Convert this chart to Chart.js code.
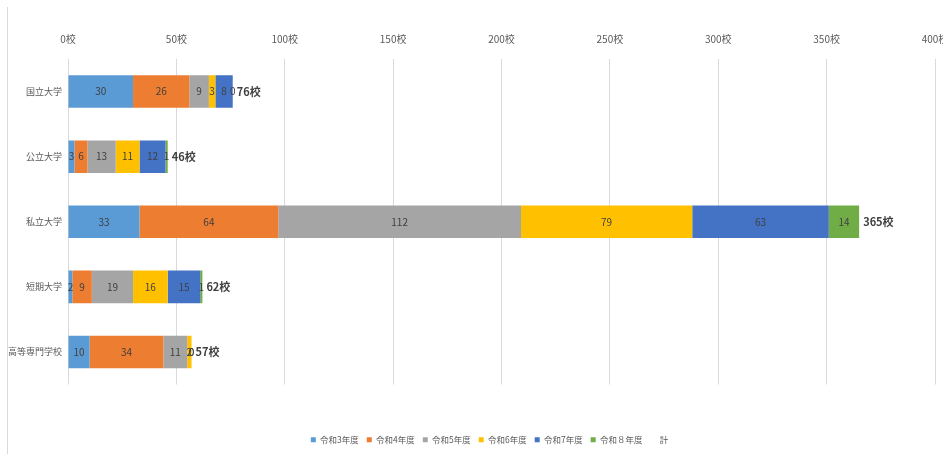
<!DOCTYPE html>
<html lang="ja">
<head>
<meta charset="utf-8">
<script src="https://cdn.jsdelivr.net/npm/chart.js@4.4.1/dist/chart.umd.min.js"></script>
<style>
	html, body { margin: 0; padding: 0; background: #fff; overflow: hidden; }
	#wrap { position: relative; width: 943px; height: 454px; overflow: hidden; }
	#frame { position: absolute; left: 7px; top: 7px; height: 447px; border-left: 1px solid #d9d9d9; }
	canvas { position: absolute; left: 0; top: 0; }
</style>
</head>
<body>
<div id="wrap">
	<div id="frame"></div>
	<canvas id="schoolChart" width="970" height="454"></canvas>
</div>
<script>
const schoolTypes = ["国立大学", "公立大学", "私立大学", "短期大学", "高等専門学校"];
const yearLabels = ["令和3年度", "令和4年度", "令和5年度", "令和6年度", "令和7年度", "令和８年度"];

const r3 = [30, 3, 33, 2, 10];
const r4 = [26, 6, 64, 9, 34];
const r5 = [9, 13, 112, 19, 11];
const r6 = [3, 11, 79, 16, 2];
const r7 = [8, 12, 63, 15, 0];
const r8 = [0, 1, 14, 1, 0];
const totals = [76, 46, 365, 62, 57];

const xTicks = [0, 50, 100, 150, 200, 250, 300, 350, 400];
const unit = "校";

const colors = ["#5B9BD5", "#ED7D31", "#A5A5A5", "#FFC000", "#4472C4", "#70AD47"];
const font = "'Noto Sans CJK JP', 'Noto Sans', sans-serif";

//////////////////////////////// labels inside bars + totals

const barLabels = {
	id: "barLabels",
	afterLayout(chart) {
		// legend sits a bit right of centre in the original
		chart.legend.left += 18;
		chart.legend.right += 18;
	},
	afterDatasetsDraw(chart) {
		const ctx = chart.ctx;
		ctx.save();
		ctx.textBaseline = "middle";
		ctx.fillStyle = "#404040";
		ctx.textAlign = "center";
		ctx.font = "10px " + font;
		chart.data.datasets.forEach((ds, i) => {
			if (ds.label === "計") return;
			const meta = chart.getDatasetMeta(i);
			meta.data.forEach((bar, j) => {
				const v = ds.data[j];
				if (v === undefined || v === null) return;
				ctx.fillText(String(v), (bar.x + bar.base) / 2, bar.y);
			});
		});
		const x = chart.scales.x;
		const y = chart.scales.y;
		ctx.textAlign = "left";
		ctx.font = "bold 11px " + font;
		totals.forEach((t, j) => {
			ctx.fillText(t + unit, x.getPixelForValue(t) + 4, y.getPixelForValue(j));
		});
		ctx.restore();
	},
};

const seriesData = [r3, r4, r5, r6, r7, r8];

const datasets = seriesData.map((d, i) => ({
	label: yearLabels[i],
	data: d,
	backgroundColor: colors[i],
	borderWidth: 0,
}));
datasets.push({
	label: "計",
	data: [],
	backgroundColor: "rgba(0,0,0,0)",
	borderWidth: 0,
});

new Chart(document.getElementById("schoolChart"), {
	type: "bar",
	data: { labels: schoolTypes, datasets: datasets },
	plugins: [barLabels],
	options: {
		responsive: false,
		animation: false,
		indexAxis: "y",
		categoryPercentage: 0.5,
		barPercentage: 1,
		layout: { padding: { left: 8, right: 35, top: 19, bottom: 0 } },
		scales: {
			x: {
				position: "top",
				stacked: true,
				min: 0,
				max: 400,
				afterBuildTicks: (s) => { s.ticks = xTicks.map((v) => ({ value: v })); },
				grid: { color: "#d9d9d9", drawTicks: false },
				border: { display: false },
				ticks: {
					padding: 14,
					color: "#595959",
					font: { size: 10, family: font },
					callback: (v) => v + unit,
				},
			},
			y: {
				stacked: true,
				grid: { display: false, drawTicks: false },
				border: { display: false },
				afterFit: (s) => { s.width = 60; },
				ticks: {
					padding: 6,
					color: "#595959",
					font: { size: 9, family: font },
				},
			},
			pad: {
				type: "linear",
				position: "bottom",
				grid: { display: false },
				border: { display: false },
				ticks: { display: false },
				afterFit: (s) => { s.height = 43; },
			},
		},
		plugins: {
			tooltip: { enabled: false },
			legend: {
				position: "bottom",
				labels: {
					boxWidth: 5,
					boxHeight: 5,
					padding: 8,
					color: "#595959",
					font: { size: 8.5, family: font },
				},
			},
		},
	},
});
</script>
</body>
</html>
